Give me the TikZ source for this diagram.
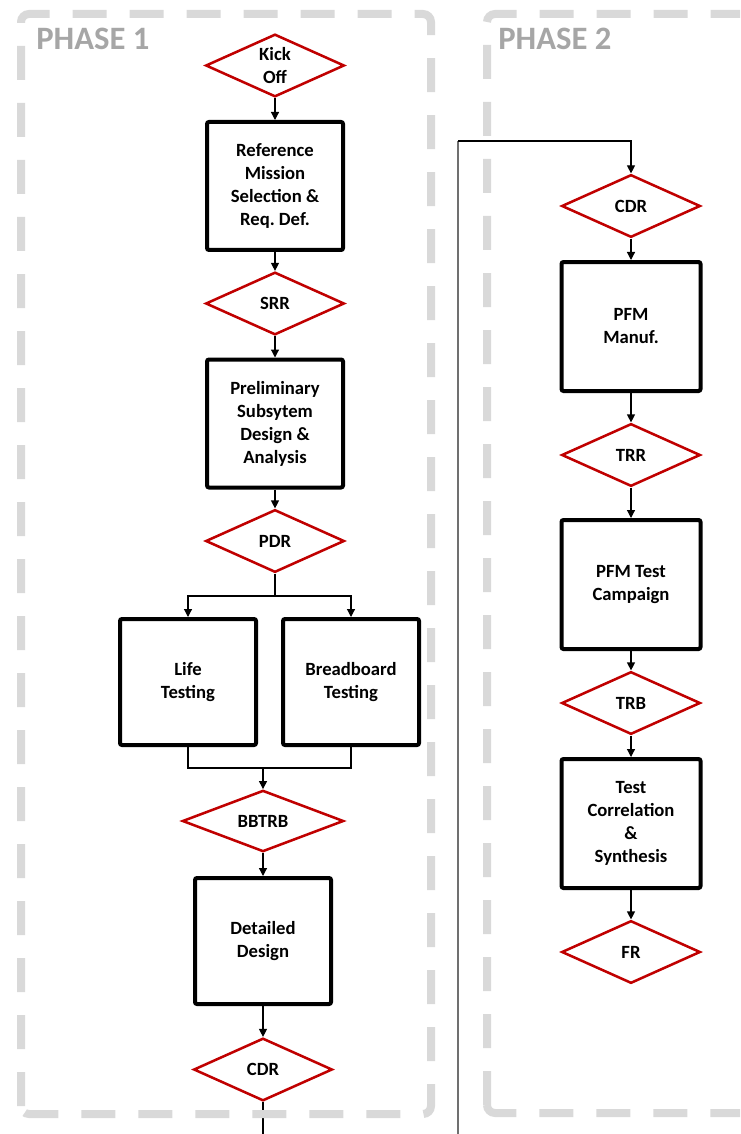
\documentclass[tikz,border=0pt]{standalone}
\usepackage{fontspec}
\setmainfont{Carlito}
\usetikzlibrary{shapes.geometric,arrows.meta}
\definecolor{dred}{HTML}{C00000}
\definecolor{fgray}{HTML}{D9D9D9}
\definecolor{pgray}{HTML}{A6A6A6}
\definecolor{lgray}{HTML}{707070}
\frenchspacing
\begin{document}
\begin{tikzpicture}[x=0.75pt,y=-0.75pt,
  txt/.style={font=\fontsize{14pt}{17.25pt}\selectfont\bfseries, align=center},
  procbox/.style={txt, draw=black, line width=3pt, rounded corners=1.5pt, minimum width=102pt, minimum height=96pt, inner sep=0pt, fill=white},
  rbox/.style={procbox, minimum width=104.25pt, minimum height=96.75pt},
  decis/.style={txt, diamond, draw=dred, line width=1.9pt, aspect=2.15, inner sep=0pt, minimum width=104pt, minimum height=47pt, fill=white},
  conn/.style={draw=black, line width=0.9pt, -{Triangle[length=6pt,width=6pt]}},
  plainconn/.style={draw=black, line width=0.9pt},
  phaseframe/.style={draw=fgray, line width=6pt, dash pattern=on 25.5pt off 17.25pt, rounded corners=6pt},
  phase/.style={font=\fontsize{24.5pt}{29pt}\selectfont\bfseries, text=pgray, anchor=base west, inner sep=0pt}]
\useasboundingbox (0,0) rectangle (740,1134);
\clip (0,0) rectangle (740,1134);

% Phase 1 column
\node[decis] (kick) at (275,65.5) {Kick\\Off};
\node[procbox] (rm) at (275,186) {Reference\\Mission\\Selection \&\\Req. Def.};
\node[decis] (srr) at (275,303.5) {SRR};
\node[procbox] (psd) at (275,423.5) {Preliminary\\Subsytem\\Design \&\\Analysis};
\node[decis] (pdr) at (275,541) {PDR};
\node[procbox, minimum height=94.5pt] (life) at (188,682) {Life\\Testing};
\node[procbox, minimum height=94.5pt] (bb) at (351,682) {Breadboard\\Testing};
\node[decis, minimum width=121pt, minimum height=46pt] (bbtrb) at (263,821) {BBTRB};
\node[procbox, minimum height=94.5pt] (dd) at (263,941) {Detailed\\Design};
\node[decis] (cdra) at (263,1069.5) {CDR};

% Phase 2 column
\node[decis] (cdrb) at (631,206) {CDR};
\node[rbox] (pfm) at (631,326.5) {PFM\\Manuf.};
\node[decis] (trr) at (631,455) {TRR};
\node[rbox] (pfmt) at (631,584.5) {PFM Test\\Campaign};
\node[decis] (trb) at (631,703) {TRB};
\node[rbox] (tcs) at (631,823.5) {Test\\Correlation\\\&\\Synthesis};
\node[decis] (fr) at (631,952) {FR};

% connectors phase 1
\draw[conn] (kick.south) -- (rm.north);
\draw[conn] (rm.south) -- (srr.north);
\draw[conn] (srr.south) -- (psd.north);
\draw[conn] (psd.south) -- (pdr.north);
\coordinate (split) at (275,596);
\draw[plainconn] (pdr.south) -- (split);
\draw[conn] (split) -| (life.north);
\draw[conn] (split) -| (bb.north);
\coordinate (merge) at (263,768);
\draw[plainconn] (life.south) |- (merge);
\draw[plainconn] (bb.south) |- (merge);
\draw[conn] (merge) -- (bbtrb.north);
\draw[conn] (bbtrb.south) -- (dd.north);
\draw[conn] (dd.south) -- (cdra.north);
\coordinate (exita) at (263,1140);
\draw[plainconn] (cdra.south) -- (exita);

% link to phase 2
\coordinate (lb) at (458,1140);
\coordinate (lt) at (458,141);
\draw[plainconn, draw=lgray] (lb) -- (lt);
\draw[conn] (lt) -| (cdrb.north);

% connectors phase 2
\draw[conn] (cdrb.south) -- (pfm.north);
\draw[conn] (pfm.south) -- (trr.north);
\draw[conn] (trr.south) -- (pfmt.north);
\draw[conn] (pfmt.south) -- (trb.north);
\draw[conn] (trb.south) -- (tcs.north);
\draw[conn] (tcs.south) -- (fr.north);

% frames
\draw[phaseframe] (21,1114) -- (21,14) -- (431,14) -- (431,1114) -- cycle;
\draw[phaseframe] (487,1113) -- (487,14) -- (780,14) -- (780,1113) -- cycle;
\node[phase] (p1) at (36,50) {PHASE 1};
\node[phase] (p2) at (498,50) {PHASE 2};
\end{tikzpicture}
\end{document}
